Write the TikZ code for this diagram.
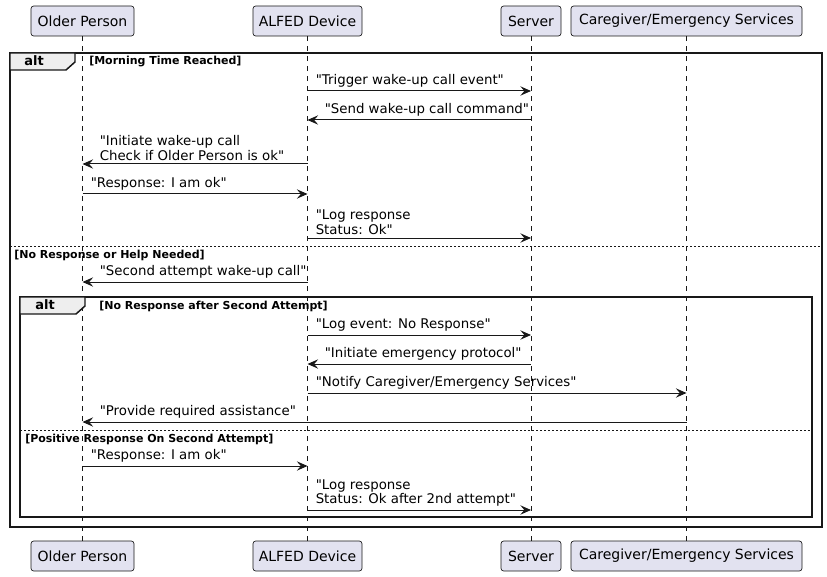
\documentclass[tikz,border=0pt]{standalone}
\usepackage{fontspec}
\setmainfont{DejaVu Sans}[Ligatures=TeXOff]
\definecolor{umlBlue}{HTML}{E2E2F0}
\definecolor{umlLine}{HTML}{181818}
\definecolor{umlTab}{HTML}{EEEEEE}
\usetikzlibrary{arrows.meta,positioning,calc}

% message to the right: label at the start, message to the left: label near the tip
\newcommand{\msgR}[4]{%
  \draw[msg] (#1 |- 0,#3) -- (#2 |- 0,#3);
  \node[msgtxt] at ($(#1 |- 0,#3)+(8,-3.5)$) {#4};}
\newcommand{\msgL}[4]{%
  \draw[msg] (#1 |- 0,#3) -- (#2 |- 0,#3);
  \node[msgtxt] at ($(#2 |- 0,#3)+(17,-3.5)$) {#4};}

\begin{document}
\begin{tikzpicture}[x=0.75pt, y=-0.75pt,
    pp/.style={rectangle, rounded corners=2pt, draw=umlLine, fill=umlBlue, line width=0.5pt,
               minimum height=22.5pt, inner sep=0pt, font=\fontsize{10.5}{12}\selectfont},
    life/.style={draw=umlLine, line width=0.5pt, dash pattern=on 3.75pt off 3.75pt},
    msg/.style={draw=umlLine, line width=0.75pt,
                -{Stealth[length=8pt, width=7pt, inset=3pt]}},
    msgtxt/.style={anchor=south west, inner sep=0pt, align=left,
                   font=\fontsize{10}{10.6}\selectfont},
    frm/.style={draw=umlLine, line width=1.1pt},
    sep/.style={draw=umlLine, line width=0.5pt, dash pattern=on 1.5pt off 1.5pt},
    alttxt/.style={inner sep=0pt, font=\fontsize{9.75}{11}\selectfont\bfseries},
    grd/.style={anchor=west, inner sep=0pt, font=\fontsize{8.25}{9}\selectfont\bfseries}
  ]
  \useasboundingbox (0,0) rectangle (827,577);

  % participants
  \node[pp, minimum width=77.25pt]  (op)  at (82.5,21)  {Older Person};
  \node[pp, minimum width=81.75pt]  (ad)  at (307.5,21) {ALFED Device};
  \node[pp, minimum width=45pt]     (sv)  at (531,21)   {Server};
  \node[pp, minimum width=173.25pt] (cg)  at (686.5,21) {Caregiver/Emergency Services};
  \node[pp, minimum width=77.25pt]  (op2) at (82.5,556)  {Older Person};
  \node[pp, minimum width=81.75pt]  (ad2) at (307.5,556) {ALFED Device};
  \node[pp, minimum width=45pt]     (sv2) at (531,556)   {Server};
  \node[pp, minimum width=173.25pt] (cg2) at (686.5,556) {Caregiver/Emergency Services};

  % lifelines
  \draw[life] (op) -- (op2);
  \draw[life] (ad) -- (ad2);
  \draw[life] (sv) -- (sv2);
  \draw[life] (cg) -- (cg2);

  % outer alt
  \draw[frm] (10,53) rectangle (822,527);
  \draw[frm, fill=umlTab] (10,53) -- (75,53) -- (75,62) -- (66,70) -- (10,70) -- cycle;
  \node[alttxt] (a1) at (34,61) {alt};
  \node[grd] (g1) at (89,62) {[Morning Time Reached]};
  \draw[sep] (10,246) -- (822,246);
  \node[grd] (g2) at (14,255) {[No Response or Help Needed]};

  % inner alt
  \draw[frm] (20,297) rectangle (812,517);
  \draw[frm, fill=umlTab] (20,297) -- (85,297) -- (85,306) -- (76,314) -- (20,314) -- cycle;
  \node[alttxt] (a2) at (45,305) {alt};
  \node[grd] (g3) at (99,306) {[No Response after Second Attempt]};
  \draw[sep] (20,430) -- (812,430);
  \node[grd] (g4) at (25,439) {[Positive Response On Second Attempt]};

  % messages
  \msgR{ad}{sv}{91}{"Trigger wake-up call event"}
  \msgL{sv}{ad}{120}{"Send wake-up call command"}
  \msgL{ad}{op}{164}{"Initiate wake-up call\\Check if Older Person is ok"}
  \msgR{op}{ad}{194}{"Response: I am ok"}
  \msgR{ad}{sv}{238}{"Log response\\Status: Ok"}
  \msgL{ad}{op}{282}{"Second attempt wake-up call"}
  \msgR{ad}{sv}{335}{"Log event: No Response"}
  \msgL{sv}{ad}{364}{"Initiate emergency protocol"}
  \msgR{ad}{cg}{393}{"Notify Caregiver/Emergency Services"}
  \msgL{cg}{op}{422}{"Provide required assistance"}
  \msgR{op}{ad}{466}{"Response: I am ok"}
  \msgR{ad}{sv}{510}{"Log response\\Status: Ok after 2nd attempt"}
\end{tikzpicture}
\end{document}
